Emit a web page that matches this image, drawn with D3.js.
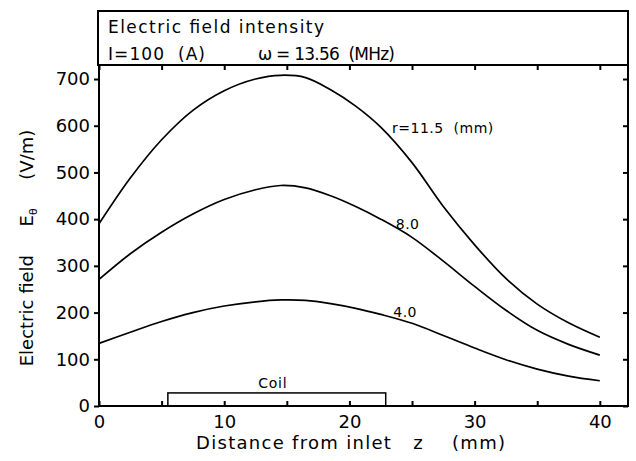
<!DOCTYPE html>
<html><head><meta charset="utf-8">
<script src="https://cdn.jsdelivr.net/npm/d3@7"></script>
<style>
body{margin:0;background:#fff}
text{font-family:"DejaVu Sans";fill:#000;white-space:pre}
</style>
</head><body><svg id="c" width="636" height="461"></svg>
<script>
// ---- data ----
const zValues = [0, 2.5, 5, 7.5, 10, 12.5, 14.5, 16.5, 18.5, 20.5, 22.5, 25, 27.5, 30, 32.5, 35, 37.5, 40];
const eR115 = [390, 488, 570, 633, 675, 700, 708, 703, 677, 642, 597, 521, 427, 345, 273, 218, 178, 147];
const eR80  = [271, 326, 372, 411, 442, 463, 472, 467, 450, 427, 400, 361, 310, 256, 205, 162, 132, 109];
const eR40  = [134, 158, 181, 200, 214, 223, 227, 226, 219, 209, 196, 177, 151, 124, 99, 79, 64, 54];
const seriesLabels = ["r=11.5  (mm)", "8.0", "4.0"];
const labelAt = [[23.4, 585], [23.7, 379], [23.5, 191]];
const xTicks = [0, 5, 10, 15, 20, 25, 30, 35, 40];
const xTickLabels = [0, 10, 20, 30, 40];
const yTicks = [0, 100, 200, 300, 400, 500, 600, 700];
const coil = {z0: 5.5, z1: 22.9, h: 28, label: "Coil"};
const titleLine1 = "Electric field intensity";
const titleLine2a = "I=100  (A)";
const titleLine2b = "ω = 13.56  (MHz)";
const xTitle = "Distance from inlet   z    (mm)";

// ---- layout ----
const svg = d3.select("#c");
const L = 99, R = 628, T = 65, B = 406;
const x = d3.scaleLinear().domain([0, 42.25]).range([L, R]);
const y = d3.scaleLinear().domain([0, 730]).range([B, T]);

// title box
svg.append("rect").attr("x", 98).attr("y", 11).attr("width", R - 98).attr("height", T - 11)
  .attr("fill", "none").attr("stroke", "#000").attr("stroke-width", 2);
const tt = (tx, ty, s, len) => svg.append("text").attr("x", tx).attr("y", ty).attr("font-size", 17)
  .attr("textLength", len).attr("lengthAdjust", "spacing").text(s);
tt(108, 33, titleLine1, 216);
tt(108, 60, titleLine2a, 97);
tt(258, 60, titleLine2b, 137);

// axes
const fmtX = d => xTickLabels.includes(d) ? d : "";
const gB = svg.append("g").attr("transform", `translate(0,${B})`)
  .call(d3.axisBottom(x).tickValues(xTicks).tickFormat(fmtX).tickSizeInner(-5).tickSizeOuter(0).tickPadding(9));
const gT = svg.append("g").attr("transform", `translate(0,${T})`)
  .call(d3.axisTop(x).tickValues(xTicks).tickFormat("").tickSizeInner(-5).tickSizeOuter(0));
const gL = svg.append("g").attr("transform", `translate(${L},0)`)
  .call(d3.axisLeft(y).tickValues(yTicks).tickSizeInner(5).tickSizeOuter(0).tickPadding(4));
const gR = svg.append("g").attr("transform", `translate(${R},0)`)
  .call(d3.axisRight(y).tickValues(yTicks).tickFormat("").tickSizeInner(-5).tickSizeOuter(0));
[gB, gT, gL, gR].forEach(g => {
  g.select(".domain").remove();
  g.selectAll(".tick line").attr("stroke", "#000").attr("stroke-width", 2);
  g.selectAll("text").attr("font-size", 18).attr("font-family", "DejaVu Sans").attr("fill", "#000");
});
// frame
svg.append("rect").attr("x", L).attr("y", T).attr("width", R - L).attr("height", B - T)
  .attr("fill", "none").attr("stroke", "#000").attr("stroke-width", 2);

// coil
svg.append("rect").attr("x", x(coil.z0)).attr("y", y(coil.h))
  .attr("width", x(coil.z1) - x(coil.z0)).attr("height", y(0) - y(coil.h))
  .attr("fill", "none").attr("stroke", "#000").attr("stroke-width", 1.5);
svg.append("text").attr("x", (x(coil.z0) + x(coil.z1)) / 2 - 4).attr("y", y(coil.h) - 5)
  .attr("text-anchor", "middle").attr("font-size", 14).attr("letter-spacing", 0.8).text(coil.label);

// curves
const line = d3.line().x((d, i) => x(zValues[i])).y(d => y(d)).curve(d3.curveCatmullRom.alpha(0.5));
[eR115, eR80, eR40].forEach((s, k) => {
  svg.append("path").attr("d", line(s)).attr("fill", "none").attr("stroke", "#000").attr("stroke-width", 1.7);
  svg.append("text").attr("x", x(labelAt[k][0])).attr("y", y(labelAt[k][1]))
    .attr("font-size", 14).attr("letter-spacing", 0.5).text(seriesLabels[k]);
});

// axis titles
svg.append("text").attr("x", 196).attr("y", 449).attr("font-size", 18)
  .attr("textLength", 309).attr("lengthAdjust", "spacing").text(xTitle);
const yt = svg.append("text").attr("transform", "translate(33,248) rotate(-90)")
  .attr("text-anchor", "middle").attr("font-size", 18);
yt.append("tspan").text("Electric field     E");
yt.append("tspan").attr("font-size", 11).attr("dy", 4).text("θ");
yt.append("tspan").attr("dy", -4).text("     (V/m)");
</script>
</body></html>
